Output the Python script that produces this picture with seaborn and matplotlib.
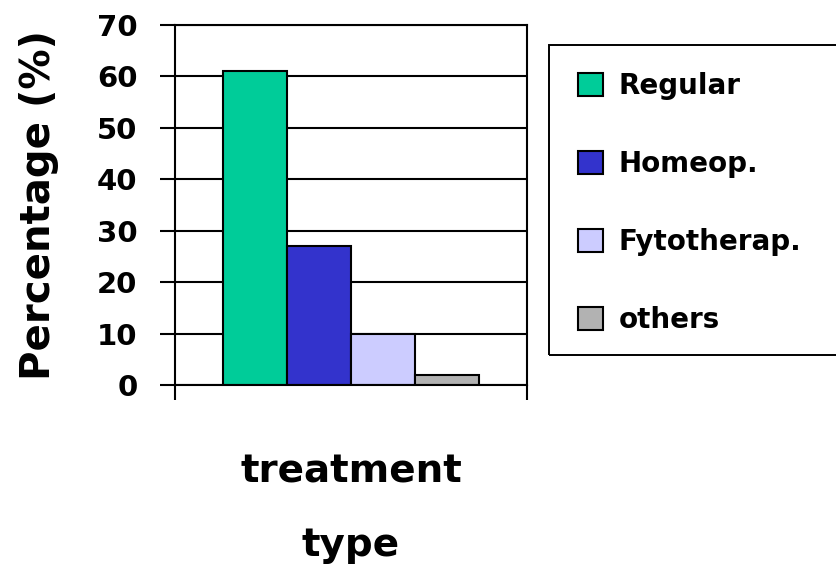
import matplotlib
matplotlib.use("Agg")
import matplotlib.pyplot as plt
import seaborn as sns
import pandas as pd
from matplotlib.patches import Rectangle

categories = ["Regular", "Homeop.", "Fytotherap.", "others"]
values = [61, 27, 10, 2]
colors = ["#00CC99", "#3333CC", "#CCCCFF", "#B2B2B2"]
group_label = "treatment type"
yticks = [0, 10, 20, 30, 40, 50, 60, 70]

sns.set_theme(style="white")
plt.rcParams["font.family"] = ["DejaVu Sans"]
plt.rcParams["font.weight"] = "bold"
plt.rcParams["text.color"] = "black"
plt.rcParams["axes.labelcolor"] = "black"
plt.rcParams["xtick.color"] = "black"
plt.rcParams["ytick.color"] = "black"

df = pd.DataFrame({"group": [group_label] * len(categories),
                   "treatment": categories,
                   "percentage": values})

fig = plt.figure(figsize=(8.37, 5.74), dpi=100)
ax = fig.add_axes([175 / 837, 1 - 385 / 574, (527 - 175) / 837, (385 - 25) / 574])

sns.barplot(data=df, x="group", y="percentage", hue="treatment",
            hue_order=categories, palette=colors, width=0.725,
            edgecolor="black", linewidth=1.5, saturation=1, ax=ax)

ax.set_ylim(0, 70)
ax.set_xlim(-0.5, 0.5)
ax.set_yticks(yticks)
ax.set_yticklabels([str(t) for t in yticks], fontsize=21, fontweight="bold", color="black")
ax.set_xticks([-0.5, 0.5])
ax.set_xticklabels(["", ""])
ax.tick_params(axis="y", direction="out", length=11, width=1.5, color="black", pad=16, left=True)
ax.tick_params(axis="x", direction="out", length=11, width=1.5, color="black", bottom=True)
ax.yaxis.grid(True, color="black", linewidth=1.5)
ax.set_axisbelow(True)
for s in ax.spines.values():
    s.set_visible(True)
    s.set_color("black")
    s.set_linewidth(1.5)

ax.set_ylabel("Percentage (%)", fontsize=29, fontweight="bold", labelpad=27, color="black")
ax.set_xlabel("treatment\ntype", fontsize=28, fontweight="bold", linespacing=2.2,
              labelpad=34, color="black")

handles, labels = ax.get_legend_handles_labels()
if ax.get_legend() is not None:
    ax.get_legend().remove()

fig.patches.append(Rectangle((549 / 837, 1 - 355 / 574), 0.4, (355 - 45) / 574,
                             transform=fig.transFigure, fill=False,
                             edgecolor="black", linewidth=1.4))
leg = fig.legend(handles, labels, loc="center left",
                 bbox_to_anchor=(578 / 837, 1 - 203 / 574),
                 frameon=False, prop={"weight": "bold", "size": 20},
                 handlelength=0.9, handleheight=0.9, handletextpad=0.55,
                 labelspacing=1.8, borderpad=0, borderaxespad=0)
for t in leg.get_texts():
    t.set_color("black")

fig.savefig("out.png", dpi=100)
